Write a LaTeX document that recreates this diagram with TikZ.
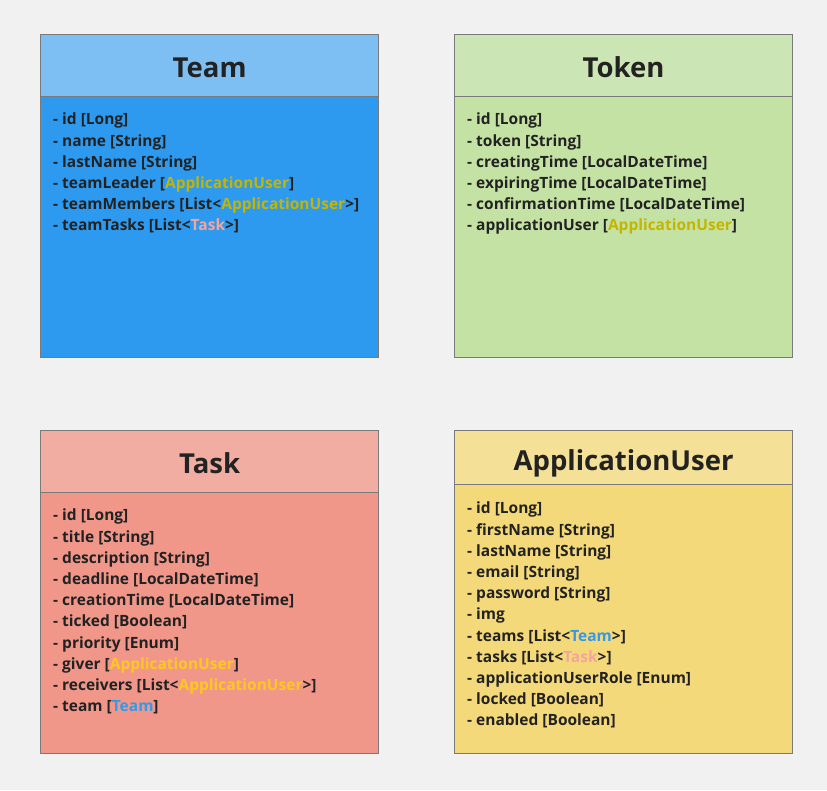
\documentclass[tikz,border=0pt]{standalone}
\usepackage{fontspec}
\setmainfont{Open Sans}
\definecolor{bgc}{HTML}{F1F1F1}
\definecolor{edge}{HTML}{7A7A7A}
\definecolor{txt}{HTML}{222222}
\definecolor{teamHead}{HTML}{7DBEF3}
\definecolor{teamBody}{HTML}{2E9AEF}
\definecolor{tokenHead}{HTML}{CCE5B4}
\definecolor{tokenBody}{HTML}{C5E2A5}
\definecolor{taskHead}{HTML}{F2ADA2}
\definecolor{taskBody}{HTML}{F0978A}
\definecolor{userHead}{HTML}{F4E096}
\definecolor{userBody}{HTML}{F4D97B}
\definecolor{olive}{HTML}{C4B500}
\definecolor{gold}{HTML}{FFC81F}
\definecolor{pinkt}{HTML}{F5A59C}
\definecolor{bluet}{HTML}{3399E8}
\newcommand{\AU}[1]{\textcolor{#1}{ApplicationUser}}
\begin{document}
\begin{tikzpicture}[x=1pt,y=-1pt,
  boxbody/.style={draw=edge, line width=1.2pt, anchor=north west, minimum width=338pt, minimum height=323pt, inner sep=0pt},
  boxhead/.style={draw=edge, line width=1.2pt, anchor=north west, minimum width=338pt, inner sep=0pt},
  title/.style={inner sep=0pt, text=txt, font=\fontsize{27.5}{30}\selectfont\bfseries},
  attrs/.style={anchor=north west, inner sep=0pt, align=left, text=txt, font=\fontsize{15.5}{21.2}\selectfont\bfseries}]
\fill[bgc] (0,0) rectangle (827,790);
\useasboundingbox (0,0) rectangle (827,790);
% Team
\node[boxbody, fill=teamBody] (team) at (40,34) {};
\node[boxhead, fill=teamHead, minimum height=62pt] (teamh) at (40,34) {};
\node[title] (teamt) at ([yshift=-2pt]teamh.center) {Team};
\node[attrs] (teama) at (53,113) {- id [Long]\\- name [String]\\- lastName [String]\\- teamLeader [\AU{olive}]\\- teamMembers [List<\AU{olive}>]\\- teamTasks [List<\textcolor{pinkt}{Task}>]};
% Token
\node[boxbody, fill=tokenBody] (token) at (454,34) {};
\node[boxhead, fill=tokenHead, minimum height=62pt] (tokenh) at (454,34) {};
\node[title] (tokent) at ([yshift=-2pt]tokenh.center) {Token};
\node[attrs] (tokena) at (467,113) {- id [Long]\\- token [String]\\- creatingTime [LocalDateTime]\\- expiringTime [LocalDateTime]\\- confirmationTime [LocalDateTime]\\- applicationUser [\AU{olive}]};
% Task
\node[boxbody, fill=taskBody] (task) at (40,430) {};
\node[boxhead, fill=taskHead, minimum height=62pt] (taskh) at (40,430) {};
\node[title] (taskt) at ([yshift=-2pt]taskh.center) {Task};
\node[attrs] (taska) at (53,509) {- id [Long]\\- title [String]\\- description [String]\\- deadline [LocalDateTime]\\- creationTime [LocalDateTime]\\- ticked [Boolean]\\- priority [Enum]\\- giver [\AU{gold}]\\- receivers [List<\AU{gold}>]\\- team [\textcolor{bluet}{Team}]};
% ApplicationUser
\node[boxbody, fill=userBody] (user) at (454,430) {};
\node[boxhead, fill=userHead, minimum height=54pt] (userh) at (454,430) {};
\node[title] (usert) at ([yshift=-6pt]userh.center) {ApplicationUser};
\node[attrs] (usera) at (467,502) {- id [Long]\\- firstName [String]\\- lastName [String]\\- email [String]\\- password [String]\\- img\\- teams [List<\textcolor{bluet}{Team}>]\\- tasks [List<\textcolor{pinkt}{Task}>]\\- applicationUserRole [Enum]\\- locked [Boolean]\\- enabled [Boolean]};
\end{tikzpicture}
\end{document}
